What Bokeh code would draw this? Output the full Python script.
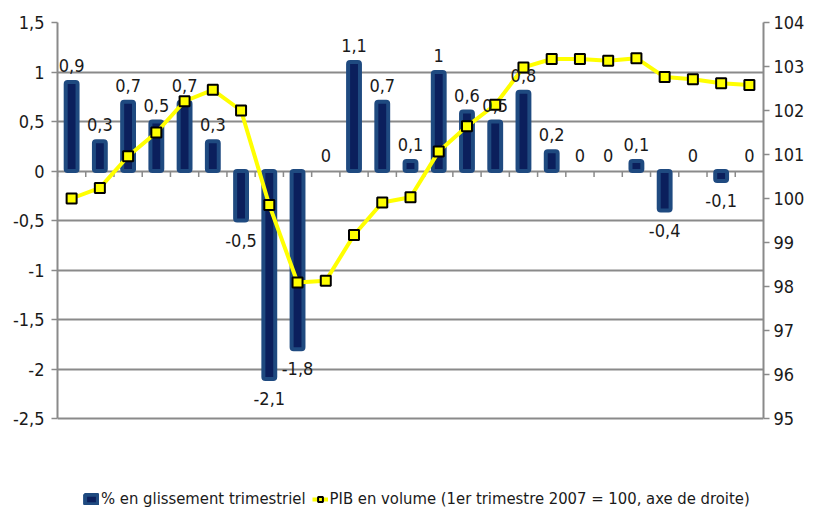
from bokeh.plotting import figure
from bokeh.models import (Range1d, LinearAxis, FixedTicker, CustomJSTickFormatter,
                          ColumnDataSource, LabelSet, Legend, LegendItem)
from bokeh.core.properties import value
from bokeh.embed import file_html
from bokeh.resources import INLINE

# ---- data ----
quarters = list(range(1, 26))
glissement = [0.9, 0.3, 0.7, 0.5, 0.7, 0.3, -0.5, -2.1, -1.8, 0.0, 1.1, 0.7, 0.1,
              1.0, 0.6, 0.5, 0.8, 0.2, 0.0, 0.0, 0.1, -0.4, 0.0, -0.1, 0.0]
pib = [100.0, 100.24, 100.96, 101.5, 102.21, 102.47, 102.0, 99.85, 98.09, 98.13,
       99.17, 99.91, 100.03, 101.07, 101.64, 102.13, 102.98, 103.17, 103.17,
       103.13, 103.19, 102.76, 102.71, 102.62, 102.58]
left_ticks = [-2.5, -2.0, -1.5, -1.0, -0.5, 0.0, 0.5, 1.0, 1.5]
right_ticks = [95, 96, 97, 98, 99, 100, 101, 102, 103, 104]
bar_label = "% en glissement trimestriel"
line_label = "PIB en volume (1er trimestre 2007 = 100, axe de droite)"

FONT = "DejaVu Sans Condensed"
TXT = "#1a1a1a"
GRID = "#8a8a8a"

W, H = 807, 508
TOP, BOTTOM_AXIS = 22, 418          # pixel rows of the 1.5 / -2.5 gridlines
frame_h = H - TOP
scale_px = (BOTTOM_AXIS - TOP)

def fmt(v):
    s = ("%.1f" % v).rstrip("0").rstrip(".")
    if s in ("-0", ""):
        s = "0"
    return s.replace(".", ",")

n = len(quarters)
src = ColumnDataSource(dict(
    x=quarters,
    v=glissement,
    pib=pib,
    lab=[fmt(v) for v in glissement],
    off=[16.5 if v > 0 else (15.5 if v == 0 else -19.5) for v in glissement],
    la=[0.0 if v == 0 else 1.0 for v in glissement],
))

lmin, lmax = left_ticks[0], left_ticks[-1]
rmin, rmax = right_ticks[0], right_ticks[-1]
l_start = lmax - (lmax - lmin) * frame_h / scale_px
r_start = rmax - (rmax - rmin) * frame_h / scale_px

p = figure(width=W, height=H, output_backend="svg", toolbar_location=None,
           x_range=Range1d(0.5, n + 0.5), y_range=Range1d(l_start, lmax),
           x_axis_location=None, y_axis_location=None,
           min_border_left=57, min_border_right=35, min_border_top=TOP,
           min_border_bottom=0)
p.outline_line_color = None
p.background_fill_color = "white"
p.border_fill_color = "white"
p.extra_y_ranges = {"right": Range1d(r_start, rmax)}

fmt_js = CustomJSTickFormatter(code="return tick.toString().replace('.', ',');")

yl = LinearAxis(ticker=FixedTicker(ticks=left_ticks), formatter=fmt_js,
                bounds=(lmin, lmax))
yr = LinearAxis(y_range_name="right", ticker=FixedTicker(ticks=right_ticks),
                bounds=(rmin, rmax))
for ax in (yl, yr):
    ax.axis_line_color = GRID
    ax.axis_line_width = 2
    ax.major_tick_line_color = GRID
    ax.major_tick_line_width = 1.5
    ax.major_tick_out = 6
    ax.major_tick_in = 0
    ax.minor_tick_line_color = None
    ax.major_label_text_font = FONT
    ax.major_label_text_font_size = "18px"
    ax.major_label_text_color = TXT
yl.major_label_standoff = 7
yr.major_label_standoff = 4
p.add_layout(yl, "left")
p.add_layout(yr, "right")

p.ygrid.ticker = FixedTicker(ticks=left_ticks)
p.ygrid.grid_line_color = GRID
p.ygrid.grid_line_width = 2
p.xgrid.grid_line_color = None

# category separator ticks hanging below the zero line
sep_x = [i + 0.5 for i in range(0, n)]
tick_len = (lmax - lmin) * 6 / scale_px
p.segment(x0=sep_x, x1=sep_x, y0=[0] * n, y1=[-tick_len] * n,
          line_color=GRID, line_width=1.5)

bars = p.vbar(x="x", top="v", bottom=0, width=0.42, source=src,
              fill_color="#0b1f5c", line_color="#1f4a80", line_width=4,
              line_alpha="la", border_radius=2)

line = p.line(x="x", y="pib", source=src, y_range_name="right",
              line_color="#ffff00", line_width=4)
pts = p.scatter(x="x", y="pib", source=src, y_range_name="right", marker="square",
                size=10, fill_color="#ffff00", line_color="black", line_width=2)

labels = LabelSet(x="x", y="v", text="lab", y_offset="off", source=src,
                  text_align="center", text_baseline="middle",
                  text_font=value(FONT), text_font_size=value("18px"),
                  text_color=value(TXT))
p.add_layout(labels)

legend = Legend(items=[LegendItem(label=bar_label, renderers=[bars]),
                       LegendItem(label=line_label, renderers=[line, pts])],
                orientation="horizontal", location=(26, 0),
                border_line_color=None, background_fill_alpha=0,
                padding=0, margin=0, spacing=6, label_standoff=2,
                glyph_width=16, glyph_height=12,
                label_text_font=FONT, label_text_font_size="16.5px",
                label_text_color=TXT)
p.add_layout(legend, "center")

open("out.html", "w").write(file_html(p, INLINE))
